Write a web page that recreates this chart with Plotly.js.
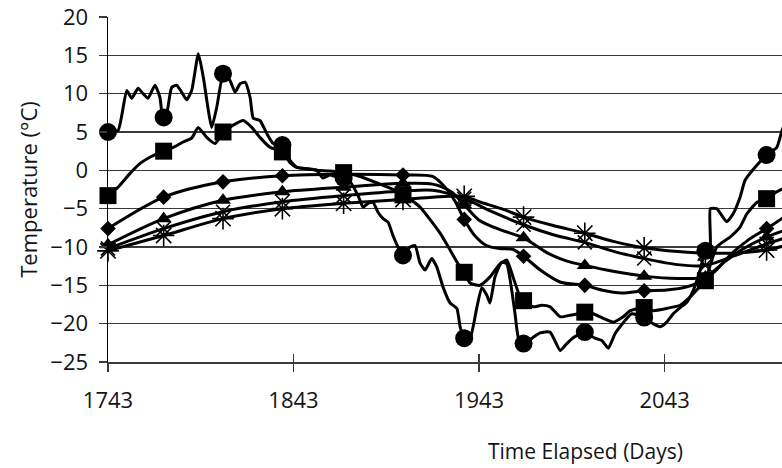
<!DOCTYPE html>
<html>
<head>
<meta charset="utf-8">
<script src="https://cdn.plot.ly/plotly-3.0.1.min.js"></script>
<style>html,body{margin:0;padding:0;background:#fff;}#chart{width:782px;height:468px;}</style>
</head>
<body>
<div id="chart"></div>
<script>
// ---- Data ----
const circleLineDays = [1743.0,1748.4,1753.1,1755.8,1759.2,1761.9,1764.6,1768.3,1771.0,1772.5,1774.6,1777.3,1780.0,1782.7,1785.4,1788.1,1791.7,1794.4,1797.1,1798.9,1801.6,1805.2,1808.8,1811.5,1814.2,1816.9,1819.6,1821.3,1824.9,1828.6,1832.1,1837.1,1841.1,1844.7,1850.1,1855.5,1858.9,1862.7,1868.1,1873.5,1877.8,1880.5,1883.2,1885.9,1888.6,1891.3,1894.0,1896.6,1899.3,1902.0,1905.8,1908.5,1911.2,1913.9,1917.5,1920.2,1923.7,1927.4,1931.0,1932.8,1934.9,1938.2,1941.8,1944.5,1947.2,1948.9,1951.6,1955.2,1957.9,1960.6,1962.4,1964.2,1967.3,1972.1,1975.9,1981.3,1986.7,1990.3,1993.9,2000.2,2005.5,2009.2,2012.7,2016.3,2019.0,2025.3,2032.5,2036.8,2040.6,2044.2,2047.7,2051.4,2055.0,2058.4,2062.2,2064.8,2067.5,2067.7,2071.1,2076.5,2079.9,2083.7,2086.4,2091.8,2098.1,2103.5,2106.3,2108.5];
const circleLineTemps = [5.0,5.2,10.4,9.4,10.7,10.0,9.4,11.1,9.5,6.9,7.4,10.8,11.1,10.2,9.2,10.4,15.2,12.1,7.8,5.6,8.2,12.6,11.7,10.2,11.3,11.5,9.5,6.8,6.5,4.8,3.5,3.3,1.3,0.4,0.2,0.0,-1.0,-0.6,-1.0,-1.5,-3.3,-4.8,-4.3,-4.2,-5.5,-6.3,-6.8,-8.5,-10.0,-11.1,-10.0,-9.8,-12.1,-13.0,-11.5,-12.6,-15.3,-17.3,-18.0,-20.4,-21.9,-21.8,-17.9,-15.3,-16.3,-17.3,-13.9,-12.0,-12.2,-15.6,-18.7,-21.8,-22.6,-21.8,-21.2,-21.1,-23.5,-22.6,-21.8,-21.1,-21.9,-22.2,-23.2,-21.3,-20.4,-18.7,-19.3,-20.0,-20.4,-19.8,-18.7,-17.9,-17.2,-15.7,-13.0,-10.6,-10.2,-5.0,-5.0,-6.7,-5.7,-3.5,-1.3,0.4,2.0,3.0,5.2,6.5];

const squareLineDays = [1743.0,1748.4,1754.9,1760.3,1765.6,1772.5,1778.2,1783.5,1788.1,1791.6,1796.2,1800.7,1805.2,1810.5,1815.9,1820.5,1824.9,1830.3,1837.1,1841.1,1844.7,1850.1,1855.5,1862.7,1869.7,1878.9,1889.6,1897.7,1902.6,1911.2,1922.0,1927.4,1931.7,1934.9,1938.2,1943.5,1948.9,1954.3,1957.9,1961.3,1965.1,1967.3,1972.1,1976.8,1981.3,1986.7,1992.1,1996.4,2000.2,2004.5,2009.9,2015.3,2020.7,2024.5,2032.5,2036.8,2044.4,2051.4,2056.8,2061.1,2064.8,2071.1,2078.3,2083.7,2087.3,2092.7,2098.1,2103.5,2108.5];
const squareLineTemps = [-3.3,-2.2,-0.4,0.9,1.7,2.5,3.0,3.7,4.2,5.6,4.3,3.5,5.0,5.9,6.5,5.6,4.3,3.0,2.4,1.0,0.4,0.2,0.0,-0.1,-0.3,-0.8,-1.8,-2.6,-3.2,-4.8,-8.2,-10.4,-12.2,-13.3,-14.7,-15.0,-13.9,-12.2,-11.7,-13.9,-16.5,-17.0,-17.8,-17.6,-17.8,-19.1,-18.9,-18.7,-18.5,-18.7,-19.3,-19.8,-19.1,-18.3,-17.9,-18.3,-18.0,-17.6,-16.5,-15.4,-14.4,-10.0,-8.7,-7.4,-5.7,-4.2,-3.7,-2.8,-2.2];

const diamondLineDays = [1743,1773,1805,1837,1870,1902,1918,1925,1930,1935,1941,1947,1954,1961,1967,1976,1987,2000,2009,2020,2032,2044,2055,2065,2071,2079,2088,2098,2108];
const diamondLineTemps = [-7.6,-3.5,-1.5,-0.7,-0.5,-0.6,-0.8,-2.3,-4.0,-6.4,-8.6,-9.8,-10.2,-10.3,-11.2,-13.0,-14.6,-15.0,-15.6,-16.0,-15.7,-15.6,-15.2,-14.2,-13.0,-10.9,-9.1,-7.6,-6.0];

const triangleLineDays = [1743,1773,1805,1837,1870,1902,1918,1928,1935,1943,1955,1967,1980,1990,2000,2016,2032,2050,2065,2075,2085,2098,2108];
const triangleLineTemps = [-9.7,-6.3,-3.9,-2.8,-2.2,-1.7,-1.8,-2.8,-4.5,-6.5,-7.8,-8.8,-10.8,-11.8,-12.4,-13.2,-13.8,-14.1,-13.9,-12.0,-10.3,-8.7,-7.8];

const xLineDays = [1743,1773,1805,1837,1870,1902,1918,1935,1950,1967,1983,2000,2016,2032,2050,2065,2080,2098,2108];
const xLineTemps = [-10.2,-7.6,-5.4,-4.1,-3.3,-2.7,-2.6,-3.7,-5.4,-7.1,-8.4,-9.4,-10.6,-11.5,-12.3,-12.4,-11.2,-9.6,-8.8];

const starLineDays = [1743,1773,1805,1837,1870,1902,1918,1935,1943,1955,1967,1983,2000,2016,2032,2050,2065,2080,2098,2108];
const starLineTemps = [-10.5,-8.5,-6.3,-5.0,-4.3,-3.8,-3.5,-3.4,-4.1,-5.0,-6.1,-7.2,-8.2,-9.3,-10.1,-10.6,-10.8,-10.8,-10.4,-9.8];

const markerDays = [1743,1773,1805,1837,1870,1902,1935,1967,2000,2032,2065,2098];
const circleMarkers   = [5.0,6.9,12.6,3.3,-1.0,-11.1,-21.9,-22.6,-21.1,-19.2,-10.5,2.0];
const squareMarkers   = [-3.3,2.5,5.0,2.4,-0.3,-3.2,-13.3,-17.0,-18.5,-17.9,-14.4,-3.7];
const diamondMarkers  = [-7.6,-3.5,-1.5,-0.7,-0.5,-0.6,-6.4,-11.2,-15.0,-15.7,-14.2,-7.6];
const triangleMarkers = [-9.7,-6.3,-3.9,-2.8,-2.2,-1.7,-4.5,-8.8,-12.4,-13.8,-13.9,-8.7];
const xMarkers        = [-10.2,-7.6,-5.4,-4.1,-3.3,-2.7,-3.7,-7.1,-9.4,-11.5,-12.4,-9.6];
const starMarkers     = [-10.5,-8.5,-6.3,-5.0,-4.3,-3.8,-3.4,-6.1,-8.2,-10.1,-10.8,-10.4];

const xTickStart = 1743, xTickStep = 100;
const yTickVals = [-25,-20,-15,-10,-5,0,5,10,15,20];

// ---- Traces ----
const lineW = 3;
function lineTrace(x, y, smoothing) {
  return {x: x, y: y, type: 'scatter', mode: 'lines', hoverinfo: 'skip',
    line: {color: '#000', width: lineW, shape: 'spline', smoothing: smoothing}, showlegend: false};
}
function markerTrace(y, symbol, size, open) {
  const m = {symbol: symbol, size: size, color: '#000'};
  if (open) { m.line = {color: '#000', width: 1.6}; }
  return {x: markerDays, y: y, type: 'scatter', mode: 'markers', cliponaxis: false,
    marker: m, showlegend: false, hoverinfo: 'skip'};
}
const traces = [
  lineTrace(starLineDays, starLineTemps, 0.8),
  lineTrace(xLineDays, xLineTemps, 0.8),
  lineTrace(triangleLineDays, triangleLineTemps, 0.8),
  lineTrace(diamondLineDays, diamondLineTemps, 0.8),
  lineTrace(squareLineDays, squareLineTemps, 0.5),
  lineTrace(circleLineDays, circleLineTemps, 0.5),
  markerTrace(starMarkers, 'asterisk-open', 18, true),
  markerTrace(xMarkers, 'x-thin-open', 14, true),
  markerTrace(triangleMarkers, 'triangle-up', 14, false),
  markerTrace(diamondMarkers, 'diamond', 12, false),
  markerTrace(squareMarkers, 'square', 17, false),
  markerTrace(circleMarkers, 'circle', 18, false)
];
// invisible trace on overlay axis for the upward half of the cross tick marks
traces.push({x: [xTickStart], y: [-100], xaxis: 'x2', type: 'scatter', mode: 'markers', marker: {opacity: 0}, showlegend: false, hoverinfo: 'skip'});

const xRange = [1743, 2106.3];
const fontFam = '"Open Sans", "Liberation Sans", sans-serif';
const txtCol = '#141414';
const layout = {
  width: 782, height: 468,
  margin: {l: 108, r: 0, t: 17, b: 106, pad: 0},
  paper_bgcolor: '#fff', plot_bgcolor: '#fff',
  showlegend: false,
  font: {family: fontFam, color: txtCol, size: 22},
  xaxis: {
    range: xRange, tick0: xTickStart, dtick: xTickStep, tickmode: 'linear',
    showgrid: false, zeroline: false,
    showline: true, linecolor: '#3a3a3a', linewidth: 1.5,
    ticks: 'outside', ticklen: 8, tickwidth: 1.5, tickcolor: '#3a3a3a',
    ticklabelstandoff: 10,
    tickfont: {family: fontFam, size: 22, color: txtCol}
  },
  xaxis2: {
    range: xRange, tick0: xTickStart, dtick: xTickStep, tickmode: 'linear',
    overlaying: 'x', anchor: 'y', side: 'bottom',
    showgrid: false, zeroline: false, showline: false,
    ticks: 'inside', ticklen: 8, tickwidth: 1.5, tickcolor: '#3a3a3a',
    showticklabels: false
  },
  yaxis: {
    range: [-25, 20], tickmode: 'array', tickvals: yTickVals,
    showgrid: true, gridcolor: '#3a3a3a', gridwidth: 1.5,
    zeroline: false,
    showline: true, linecolor: '#000', linewidth: 1.5,
    ticks: 'outside', ticklen: 8, tickwidth: 1.5, tickcolor: '#3a3a3a',
    ticklabelstandoff: 6,
    tickfont: {family: fontFam, size: 22, color: txtCol},
    title: {text: 'Temperature (°C)', font: {family: fontFam, size: 22, color: txtCol}, standoff: 6}
  },
  annotations: [{
    text: 'Time Elapsed (Days)', xref: 'paper', yref: 'paper',
    x: (585 - 108) / 674, y: -(451 - 362) / 345, xanchor: 'center', yanchor: 'middle',
    showarrow: false, font: {family: fontFam, size: 21, color: txtCol}
  }]
};
Plotly.newPlot('chart', traces, layout, {staticPlot: true, displayModeBar: false});
</script>
</body>
</html>
